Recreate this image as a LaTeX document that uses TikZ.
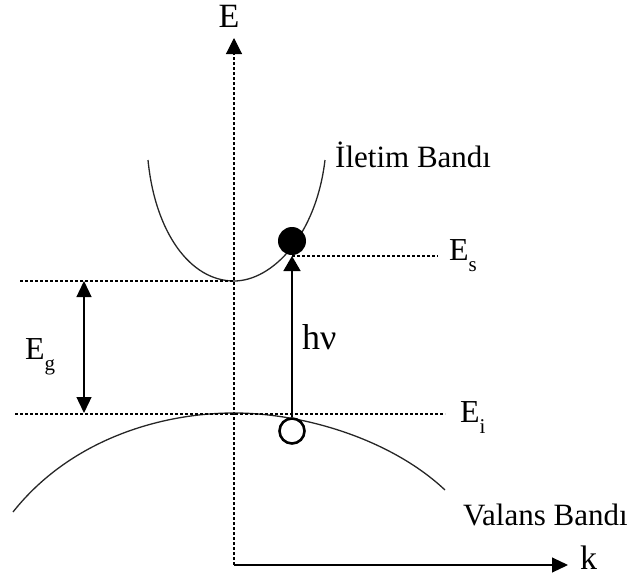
\documentclass[tikz,border=0pt]{standalone}
\usepackage{fontspec}
\setmainfont{Liberation Serif}
\usetikzlibrary{arrows.meta}
\tikzset{
  thin line/.style={line width=1.1pt, black},
  dashline/.style={line width=1.1pt, dash pattern=on 3pt off 2pt},
  tip/.style={-{Triangle[width=16pt,length=16pt]}},
  lbl/.style={inner sep=0pt, anchor=base west},
  bandlbl/.style={lbl, font=\fontsize{31}{34}\selectfont},
  axlbl/.style={lbl, font=\fontsize{34}{37}\selectfont},
  elbl/.style={lbl, font=\fontsize{32}{35}\selectfont},
  band/.style={line width=1.3pt, black!85},
}
\newcommand{\subsc}[1]{\raisebox{-11pt}{\fontsize{21}{21}\selectfont #1}}
\begin{document}
\begin{tikzpicture}[x=1pt,y=-1pt]
\useasboundingbox (0,0) rectangle (633,581);
% coordinates
\coordinate (origin) at (234,565);
\coordinate (ytop) at (234,38);
\coordinate (xend) at (568,565);
\coordinate (cL) at (148,160);
\coordinate (cV) at (234,281);
\coordinate (cR) at (325,160);
\coordinate (vL) at (13,512);
\coordinate (vV) at (234,413);
\coordinate (vR) at (445,490);
% axes
\draw[dashline, tip] (origin) -- (ytop);
\draw[thin line, -{Triangle[width=15pt,length=16pt]}] (origin) -- (xend);
\node[axlbl, anchor=base] (Elbl) at (229,27) {E};
\node[axlbl] (klbl) at (580,569) {k};
% conduction band
\draw[band] (cL) .. controls (155,232) and (190,281) .. (cV)
  .. controls (272,281) and (316,236) .. (cR);
\node[bandlbl] (cond) at (335,167) {İletim Bandı};
% valence band
\draw[band] (vL) .. controls (70,440) and (160,413) .. (vV)
  .. controls (305,413) and (392,440) .. (vR);
\node[bandlbl] (val) at (463,525) {Valans Bandı};
% dashed levels
\coordinate (gTopL) at (20,281);
\coordinate (gBotL) at (15,414);
\coordinate (gBotR) at (445,414);
\draw[dashline] (gTopL) -- (cV);
\draw[dashline] (gBotL) -- (gBotR);
% electron / hole
\node[circle, fill=black, minimum size=28pt, inner sep=0pt] (el) at (292,241) {};
\node[circle, draw=black, line width=2.6pt, fill=white, minimum size=25pt, inner sep=0pt] (hole) at (292,431) {};
\coordinate (esR) at (438,256);
\coordinate (arrBase) at (292,417);
\coordinate (arrTip) at (292,256);
\draw[dashline] (arrTip) -- (esR);
\draw[line width=1.5pt, -{Triangle[width=17pt,length=15pt]}] (arrBase) -- (arrTip);
\node[lbl, font=\fontsize{36}{38}\selectfont] (hv) at (302,349) {h\char"03BD};
\node[elbl] (Es) at (449,260) {E\subsc{s}};
\node[elbl] (Ei) at (460,422) {E\subsc{i}};
% gap arrow
\coordinate (gT) at (84,281);
\coordinate (gB) at (84,413);
\draw[line width=1.3pt, {Triangle[width=15pt,length=16pt]}-{Triangle[width=15pt,length=16pt]}] (gT) -- (gB);
\node[elbl] (Eg) at (25,359) {E\subsc{g}};
\end{tikzpicture}
\end{document}
